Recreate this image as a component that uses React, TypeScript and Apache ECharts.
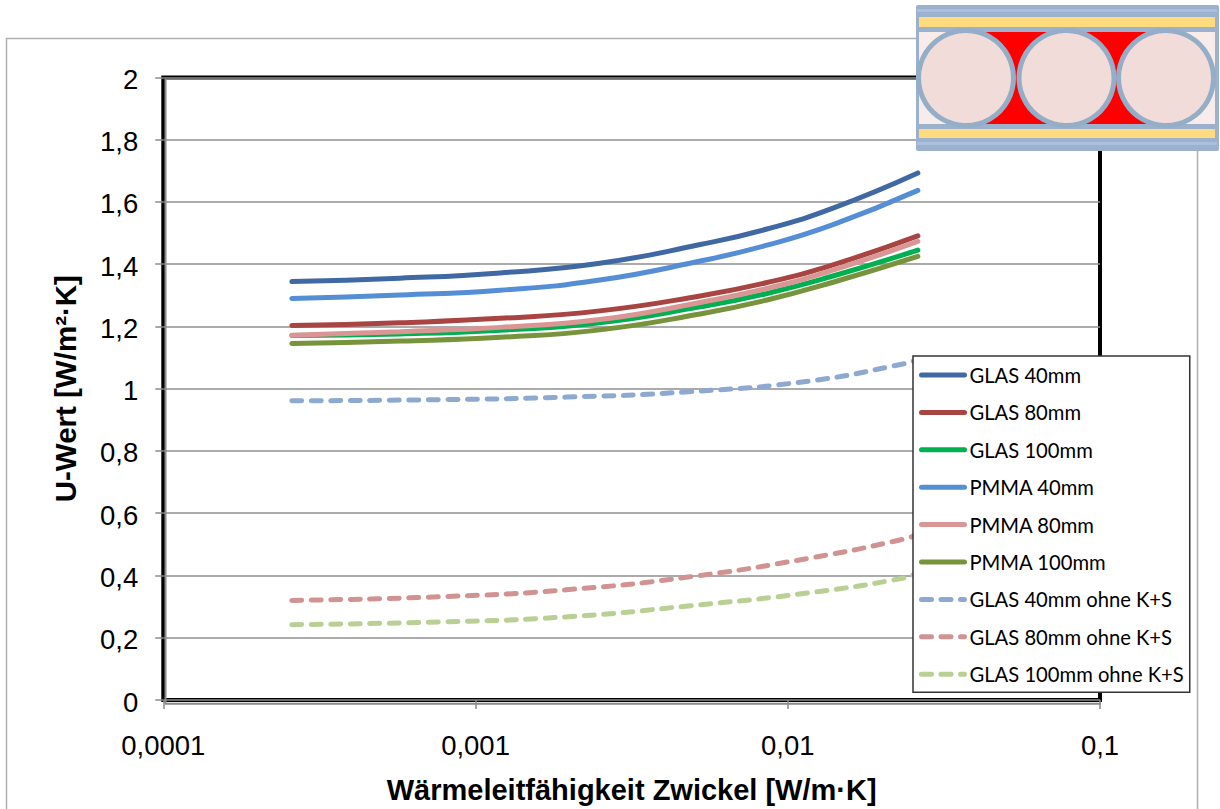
import React, { useEffect, useRef } from "react";
import * as echarts from "echarts";

const xSolid = [0.000258, 0.000573, 0.0012, 0.0025, 0.00524, 0.00858, 0.01396, 0.0261];
const xDashed = [0.000258, 0.000787, 0.00195, 0.00479, 0.01178, 0.02356, 0.0261];

const glas40 = [1.344, 1.355, 1.372, 1.403, 1.463, 1.513, 1.58, 1.693];
const glas80 = [1.203, 1.212, 1.226, 1.25, 1.298, 1.341, 1.398, 1.491];
const glas100 = [1.171, 1.176, 1.188, 1.212, 1.263, 1.306, 1.362, 1.445];
const pmma40 = [1.29, 1.301, 1.316, 1.349, 1.41, 1.461, 1.527, 1.637];
const pmma80 = [1.172, 1.183, 1.197, 1.222, 1.277, 1.322, 1.381, 1.473];
const pmma100 = [1.145, 1.153, 1.165, 1.189, 1.24, 1.285, 1.342, 1.425];
const glas40Ohne = [0.961, 0.965, 0.973, 0.99, 1.025, 1.08, 1.094];
const glas80Ohne = [0.32, 0.332, 0.354, 0.395, 0.456, 0.517, 0.533];
const glas100Ohne = [0.242, 0.251, 0.267, 0.302, 0.345, 0.392, 0.41];

const xTickLabels = ["0,0001", "0,001", "0,01", "0,1"];

const solid = (name: string, ys: number[], color: string) => ({
  name,
  type: "line",
  data: ys.map((y, i) => [xSolid[i], y]),
  smooth: 0.5,
  symbol: "none",
  showSymbol: false,
  itemStyle: { color },
  lineStyle: { color, width: 5, cap: "round", join: "round" },
});

const dashed = (name: string, ys: number[], color: string) => ({
  name,
  type: "line",
  data: ys.map((y, i) => [xDashed[i], y]),
  smooth: 0.5,
  symbol: "none",
  showSymbol: false,
  itemStyle: { color },
  lineStyle: { color, width: 5, type: [10, 9.5], cap: "round", join: "round" },
});

const series = [
  solid("GLAS 40mm", glas40, "#4069a3"),
  solid("GLAS 80mm", glas80, "#a84442"),
  solid("GLAS 100mm", glas100, "#00b050"),
  solid("PMMA 40mm", pmma40, "#558ed5"),
  solid("PMMA 80mm", pmma80, "#d99694"),
  solid("PMMA 100mm", pmma100, "#77933c"),
  dashed("GLAS 40mm ohne K+S", glas40Ohne, "#8ea9d0"),
  dashed("GLAS 80mm ohne K+S", glas80Ohne, "#d19392"),
  dashed("GLAS 100mm ohne K+S", glas100Ohne, "#b9cf94"),
];

const ring = { fill: "#f2dcda", stroke: "#95aec8", lineWidth: 5 };

const picture = [
  { type: "rect", z: 100, shape: { x: 916, y: 5, width: 303, height: 146, r: 2 }, style: { fill: "#9bb1cd" } },
  { type: "rect", z: 101, shape: { x: 917, y: 9, width: 300, height: 3 }, style: { fill: "#a9c0de" } },
  { type: "rect", z: 101, shape: { x: 917, y: 142, width: 300, height: 3 }, style: { fill: "#a9c0de" } },
  { type: "rect", z: 101, shape: { x: 919, y: 17, width: 296, height: 10 }, style: { fill: "#ffdb7d" } },
  { type: "rect", z: 101, shape: { x: 919, y: 129, width: 296, height: 9 }, style: { fill: "#ffdb7d" } },
  { type: "rect", z: 101, shape: { x: 919, y: 32, width: 296, height: 92 }, style: { fill: "#f8ecea" } },
  { type: "rect", z: 102, shape: { x: 978, y: 32, width: 177, height: 92 }, style: { fill: "#ff0000" } },
  { type: "circle", z: 103, shape: { cx: 966, cy: 78, r: 47.5 }, style: ring },
  { type: "circle", z: 103, shape: { cx: 1066.5, cy: 78, r: 47.5 }, style: ring },
  { type: "circle", z: 103, shape: { cx: 1166, cy: 78, r: 47.5 }, style: ring },
];

const frame = [
  { type: "rect", z: 1, silent: true, shape: { x: 6.5, y: 38.5, width: 1191, height: 800 }, style: { fill: "none", stroke: "#b0b0b0", lineWidth: 1.5 } },
  { type: "line", z: 1, silent: true, shape: { x1: 165.5, y1: 79, x2: 165.5, y2: 704 }, style: { stroke: "#8a8a8a", lineWidth: 2 } },
  { type: "line", z: 1, silent: true, shape: { x1: 165, y1: 703.7, x2: 1101, y2: 703.7 }, style: { stroke: "#8a8a8a", lineWidth: 2 } },
];

export default function App() {
  const ref = useRef<HTMLDivElement>(null);
  useEffect(() => {
    const chart = echarts.init(ref.current!, null, { renderer: "svg" });
    chart.setOption({
      animation: false,
      backgroundColor: "#ffffff",
      grid: {
        show: true,
        left: 163.3,
        top: 77.4,
        width: 936.7,
        height: 624,
        borderColor: "#000000",
        borderWidth: 4,
        backgroundColor: "transparent",
      },
      xAxis: {
        type: "log",
        logBase: 10,
        min: 0.0001,
        max: 0.1,
        name: "Wärmeleitfähigkeit Zwickel [W/m·K]",
        nameLocation: "middle",
        nameGap: 75,
        nameTextStyle: { fontFamily: "Liberation Sans", fontWeight: "bold", fontSize: 29, color: "#000" },
        axisLine: { show: false },
        axisTick: { show: true, length: 9, lineStyle: { color: "#8a8a8a", width: 1.5 } },
        splitLine: { show: false },
        minorTick: { show: false },
        axisLabel: {
          margin: 31,
          fontFamily: "Liberation Sans",
          fontSize: 27.5,
          color: "#000",
          formatter: (v: number) => xTickLabels[Math.round(Math.log10(v)) + 4],
        },
      },
      yAxis: {
        type: "value",
        min: 0,
        max: 2,
        interval: 0.2,
        name: "U-Wert [W/m²·K]",
        nameLocation: "middle",
        nameGap: 83,
        nameTextStyle: { fontFamily: "Liberation Sans", fontWeight: "bold", fontSize: 29.5, color: "#000" },
        axisLine: { show: false },
        axisTick: { show: true, length: 8, lineStyle: { color: "#8a8a8a", width: 1.5 } },
        splitLine: { show: true, lineStyle: { color: "#8f8f8f", width: 1.5 } },
        axisLabel: {
          margin: 25,
          fontFamily: "Liberation Sans",
          fontSize: 27.5,
          color: "#000",
          formatter: (v: number) => `{a|${String(+v.toFixed(1)).replace(".", ",")}}`,
          rich: {
            a: { fontFamily: "Liberation Sans", fontSize: 27.5, color: "#000", padding: [4, 0, 0, 0] },
          },
        },
      },
      legend: {
        show: true,
        orient: "vertical",
        left: 913,
        top: 356,
        padding: [9, 6, 8, 6],
        icon: "inherit",
        itemWidth: 43,
        itemHeight: 14,
        itemGap: 17.4,
        lineStyle: { width: 5 },
        itemStyle: { opacity: 0 },
        backgroundColor: "#ffffff",
        borderColor: "#333333",
        borderWidth: 1.5,
        textStyle: { fontFamily: "Lato", fontSize: 20.2, color: "#000" },
        data: series.map((s) => s.name),
      },
      series,
      graphic: [...frame, ...picture],
    });
    return () => chart.dispose();
  }, []);
  return <div ref={ref} style={{ position: "absolute", left: 0, top: 0, width: 1220, height: 809 }} />;
}
